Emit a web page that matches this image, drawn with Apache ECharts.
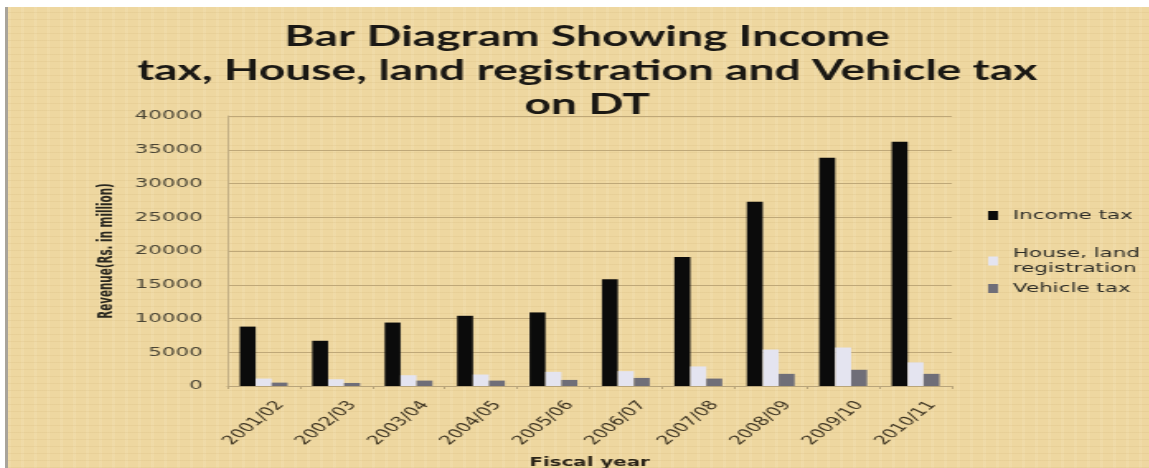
<!DOCTYPE html>
<html>
<head>
<meta charset="utf-8">
<script src="https://cdn.jsdelivr.net/npm/echarts@6/dist/echarts.min.js"></script>
<style>
  html, body { margin: 0; padding: 0; background: #ffffff; width: 1149px; height: 468px; overflow: hidden; }
  #paper {
    position: absolute; left: 5px; top: 7px; width: 1144px; height: 461px;
    box-sizing: border-box; border-left: 3px solid #a9a49a;
    background-color: #eed7a0;
    background-image:
      repeating-linear-gradient(0deg, rgba(150,110,40,0.07) 0 1px, transparent 1px 7px),
      repeating-linear-gradient(90deg, rgba(255,250,230,0.10) 0 3px, transparent 3px 13px);
  }
  /* the chart is laid out narrow and widened horizontally */
  #chart {
    position: absolute; left: 8px; top: 7px; width: 692px; height: 461px;
    transform: scaleX(1.65); transform-origin: 0 0;
  }
</style>
</head>
<body>
<div id="paper"></div>
<div id="chart"></div>
<script>
const categories = ['2001/02', '2002/03', '2003/04', '2004/05', '2005/06',
                    '2006/07', '2007/08', '2008/09', '2009/10', '2010/11'];
const incomeTax  = [8800, 6700, 9400, 10400, 10900, 15800, 19100, 27300, 33800, 36200];
const houseLand  = [1100, 1000, 1600, 1700, 2100, 2200, 2900, 5400, 5700, 3500];
const vehicleTax = [500, 450, 800, 800, 900, 1200, 1100, 1800, 2400, 1800];
const seriesNames = ['Income tax', 'House, land\nregistration', 'Vehicle tax'];
const yMin = 0, yMax = 40000, yStep = 5000;

const chart = echarts.init(document.getElementById('chart'), null, { renderer: 'canvas' });

const legendText = { fontFamily: 'DejaVu Sans', fontSize: 13, color: '#2b2b26', lineHeight: 15,
                     padding: [0, 0, 0, 4] };
function legendAt(name, top) {
  return {
    data: [name], orient: 'vertical', left: 594, top: top, padding: [5, 0, 5, 0],
    itemWidth: 6, itemHeight: 9, itemGap: 0, icon: 'rect',
    textStyle: legendText, selectedMode: false
  };
}

chart.setOption({
  backgroundColor: 'transparent',
  animation: false,
  title: {
    text: 'Bar Diagram Showing Income\ntax, House, land registration and Vehicle tax\non DT',
    left: 346, top: 8, textAlign: 'center',
    textStyle: { fontFamily: 'Lato', fontWeight: 'bold', fontSize: 28, lineHeight: 34, color: '#1a1814' }
  },
  legend: [
    legendAt(seriesNames[0], 196),
    legendAt(seriesNames[1], 234),
    legendAt(seriesNames[2], 269)
  ],
  grid: { left: 133, right: 120, top: 109, bottom: 82, containLabel: false, outerBoundsMode: 'none' },
  xAxis: {
    type: 'category', data: categories,
    name: 'Fiscal year', nameLocation: 'middle', nameGap: 71,
    nameTextStyle: { fontFamily: 'DejaVu Sans', fontWeight: 'bold', fontSize: 12, color: '#2a2418' },
    axisLine: { show: true, lineStyle: { color: '#b9a57a', width: 1 } },
    axisTick: { show: true, length: 3, lineStyle: { color: '#b9a57a' } },
    axisLabel: { rotate: 52, margin: 19, verticalAlign: 'top', padding: [0, -8, 0, 0],
                 fontFamily: 'DejaVu Sans', fontSize: 12.5, color: '#3b3220' }
  },
  yAxis: {
    type: 'value', min: yMin, max: yMax, interval: yStep,
    name: 'Revenue(Rs. in million)', nameLocation: 'middle', nameRotate: 90, nameGap: 66,
    nameTextStyle: { fontFamily: 'DejaVu Sans Condensed', fontWeight: 'bold', fontSize: 11.5, color: '#2a2820' },
    axisLine: { show: true, lineStyle: { color: '#c2ae84', width: 1 } },
    axisTick: { show: false },
    axisLabel: { margin: 15, fontFamily: 'DejaVu Sans', fontSize: 13, color: '#4a4535',
                 formatter: v => String(v) },
    splitLine: { show: true, lineStyle: { color: '#bfa878', width: 1 } }
  },
  series: [
    { name: seriesNames[0], type: 'bar', data: incomeTax, itemStyle: { color: '#0b0b0b' },
      barGap: '0%', barCategoryGap: '34%' },
    { name: seriesNames[1], type: 'bar', data: houseLand, itemStyle: { color: '#e4e4f0' },
      barGap: '0%', barCategoryGap: '34%' },
    { name: seriesNames[2], type: 'bar', data: vehicleTax, itemStyle: { color: '#6f6e78' },
      barGap: '0%', barCategoryGap: '34%' }
  ]
});
</script>
</body>
</html>
